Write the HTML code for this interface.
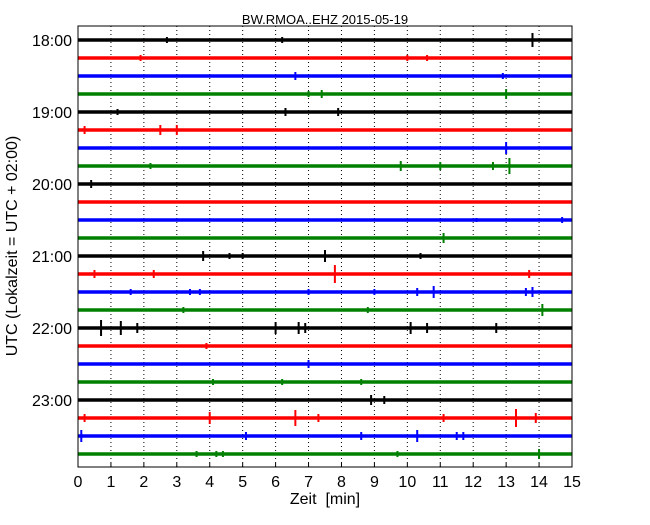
<!DOCTYPE html>
<html><head><meta charset="utf-8"><style>
body{margin:0;background:#fff;}
text{font-family:"Liberation Sans",sans-serif;}
</style></head><body>
<svg id="c" width="650" height="520" xmlns="http://www.w3.org/2000/svg"></svg>
<script>
const rowLabels=["18:00","19:00","20:00","21:00","22:00","23:00"];
const xTicks=[0,1,2,3,4,5,6,7,8,9,10,11,12,13,14,15];
const colors=["#000000","#ff0000","#0000ff","#008000"];
const spikes=[
[[13.8,7],[6.2,3],[2.7,3]],
[[1.9,3],[10,3],[10.6,3]],
[[6.6,4],[12.9,3]],
[[7.0,3],[7.4,4],[13.0,5]],
[[1.2,3],[6.3,4],[7.9,4]],
[[0.2,4],[2.5,5],[3.0,5]],
[[13.0,6]],
[[2.2,3],[9.8,5],[11.0,4],[12.6,4],[13.1,8]],
[[0.4,4]],
[],
[[14.7,3],[12.1,2]],
[[11.1,5]],
[[3.8,5],[4.6,3],[5.0,3],[7.5,6],[10.4,3]],
[[0.5,4],[2.3,4],[7.8,9],[13.7,4]],
[[1.6,3],[3.4,3],[3.7,3],[7.0,3],[9.0,3],[10.3,4],[10.8,6],[13.6,4],[13.8,5]],
[[3.2,3],[8.8,3],[14.1,6]],
[[0.7,8],[1.3,7],[1.8,5],[6.0,6],[6.7,6],[6.9,5],[10.1,6],[10.6,5],[12.7,5]],
[[3.9,3]],
[[7.0,4]],
[[4.1,3],[6.2,3],[8.6,3]],
[[8.9,5],[9.3,4]],
[[0.2,4],[4.0,6],[6.6,8],[7.3,4],[11.1,4],[13.3,9],[13.9,5]],
[[0.1,6],[5.1,4],[8.6,4],[10.3,6],[11.5,4],[11.7,4]],
[[3.6,3],[4.2,3],[4.4,3],[9.7,3],[14.0,5]]
];
const L=78,R=572,T=26,B=467;
const x=m=>L+(m/15)*(R-L);
const y=i=>40+i*18;
const svg=document.getElementById('c');
const NS="http://www.w3.org/2000/svg";
function mk(t,a){const e=document.createElementNS(NS,t);for(const k in a)e.setAttribute(k,a[k]);svg.appendChild(e);return e;}
xTicks.forEach(t=>{
  if(t>0&&t<15){const g=mk('line',{x1:x(t),x2:x(t),y1:T,y2:B,stroke:'#000','stroke-width':1,'stroke-dasharray':'1,3'});
  
  }
  const k=mk('line',{x1:x(t),x2:x(t),y1:B,y2:B-4,stroke:'#000'});
  
  
  const tx=mk('text',{x:x(t),y:B+20,'text-anchor':'middle','font-size':16});
  tx.textContent=t;
  
  
});
spikes.forEach((row,i)=>{
  const c=colors[i%4];
  const tr=mk('line',{x1:L,x2:R,y1:y(i),y2:y(i),stroke:c,'stroke-width':3.5});
  
  
  row.forEach(s=>{
    const sp=mk('line',{x1:x(s[0]),x2:x(s[0]),y1:y(i)-s[1],y2:y(i)+s[1],stroke:c,'stroke-width':2});
    
    
  });
});
rowLabels.forEach((l,j)=>{
  const yy=y(j*4);
  const k=mk('line',{x1:L,x2:L+4,y1:yy,y2:yy,stroke:'#000'});
  
  
  const tx=mk('text',{x:L-6,y:yy+6,'text-anchor':'end','font-size':16});
  tx.textContent=l;
  
  
});
const fr=mk('rect',{x:L,y:T,width:R-L,height:B-T,fill:'none',stroke:'#000','stroke-width':1});


const ti=mk('text',{x:325,y:24,'text-anchor':'middle','font-size':13});
ti.textContent='BW.RMOA..EHZ 2015-05-19';


const xl=mk('text',{x:325,y:504,'text-anchor':'middle','font-size':16});
xl.textContent='Zeit\u00a0 [min]';


const yl=mk('text',{x:0,y:0,'text-anchor':'middle','font-size':16,transform:'translate(17,246) rotate(-90)'});
yl.textContent='UTC (Lokalzeit = UTC + 02:00)';


</script>
</body></html>
